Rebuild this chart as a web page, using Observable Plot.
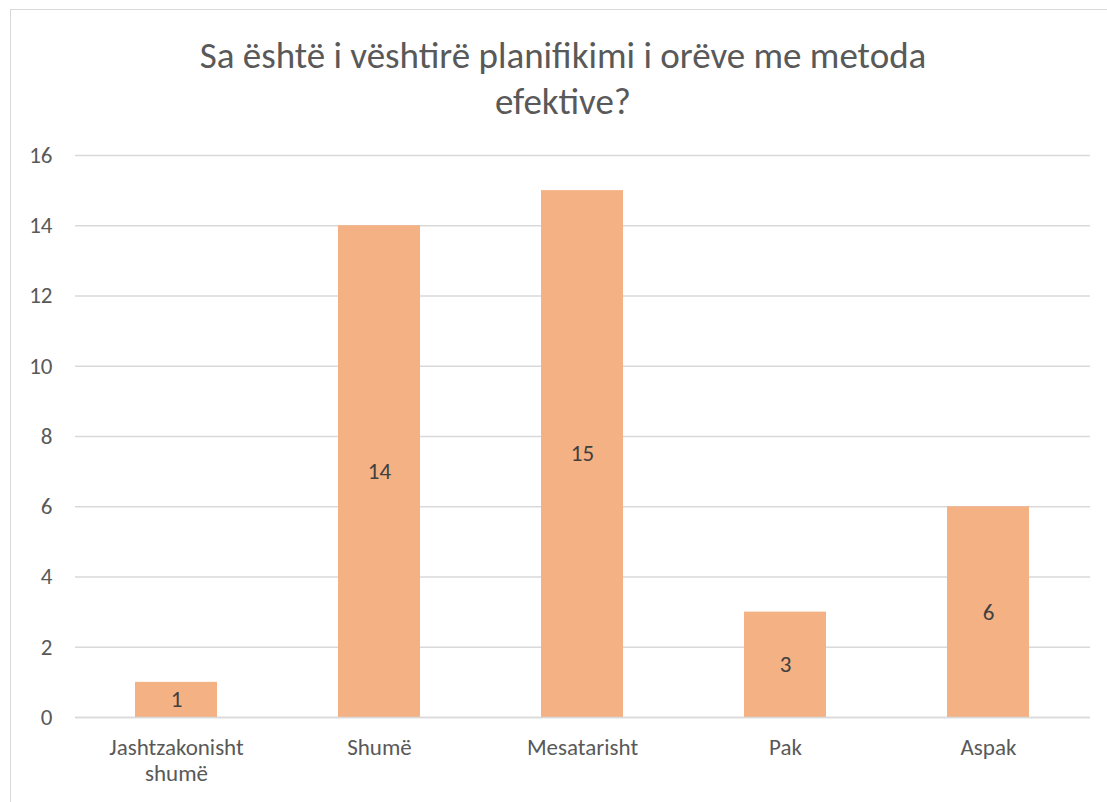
<!DOCTYPE html>
<html><head><meta charset="utf-8">
<script src="https://cdn.jsdelivr.net/npm/d3@7"></script>
<script src="https://cdn.jsdelivr.net/npm/@observablehq/plot@0.6"></script>
<style>
body{margin:0;background:#fff;overflow:hidden;}
#wrap{position:relative;width:1107px;height:802px;overflow:hidden;font-family:Carlito,Lato,"Open Sans",sans-serif;}
#frame{position:absolute;left:10px;top:9px;width:1120px;height:820px;border:1.5px solid #d9d9d9;}
#title{position:absolute;left:11px;width:1104px;top:33px;text-align:center;font-size:37px;font-weight:300;line-height:46px;color:#595959;}
#chart{position:absolute;left:0;top:130px;}
</style></head>
<body>
<div id="wrap"><div id="frame"></div>
<div id="title">Sa është i vështirë planifikimi i orëve me metoda<br>efektive?</div>
<div id="chart"></div></div>
<script>
const categories = ["Jashtzakonisht shumë", "Shumë", "Mesatarisht", "Pak", "Aspak"];
const tickLabels = ["Jashtzakonisht\nshumë", "Shumë", "Mesatarisht", "Pak", "Aspak"];
const values = [1, 14, 15, 3, 6];
const yTicks = [0, 2, 4, 6, 8, 10, 12, 14, 16];

const data = categories.map((c, i) => ({cat: c, v: values[i]}));
const font = 'Carlito, Lato, "Open Sans", sans-serif';

const plot = Plot.plot({
  width: 1107, height: 672,
  marginTop: 25, marginBottom: 85, marginLeft: 75, marginRight: 17,
  style: {fontFamily: font, fontSize: "23px", color: "#595959", background: "transparent"},
  x: {domain: categories, paddingInner: 0.596, paddingOuter: 0.298, label: null},
  y: {domain: [0, 16], label: null},
  marks: [
    Plot.gridY(yTicks, {stroke: "#d9d9d9", strokeWidth: 1.5, strokeOpacity: 1}),
    Plot.barY(data, {x: "cat", y: "v", fill: "#f4b183"}),
    Plot.ruleY([0], {stroke: "#d9d9d9", strokeWidth: 1.5}),
    Plot.axisY(yTicks, {tickSize: 0, tickPadding: 23, fontSize: 23, fill: "#595959", label: null}),
    Plot.axisX({tickSize: 0, tickPadding: 19, fontSize: 23, fill: "#595959", label: null, lineHeight: 1.13,
      tickFormat: d => tickLabels[categories.indexOf(d)]}),
    Plot.text(data, {x: "cat", y: d => d.v / 2, text: d => String(d.v), fill: "#404040", fontSize: 23})
  ]
});
document.getElementById("chart").appendChild(plot);
</script>
</body></html>
